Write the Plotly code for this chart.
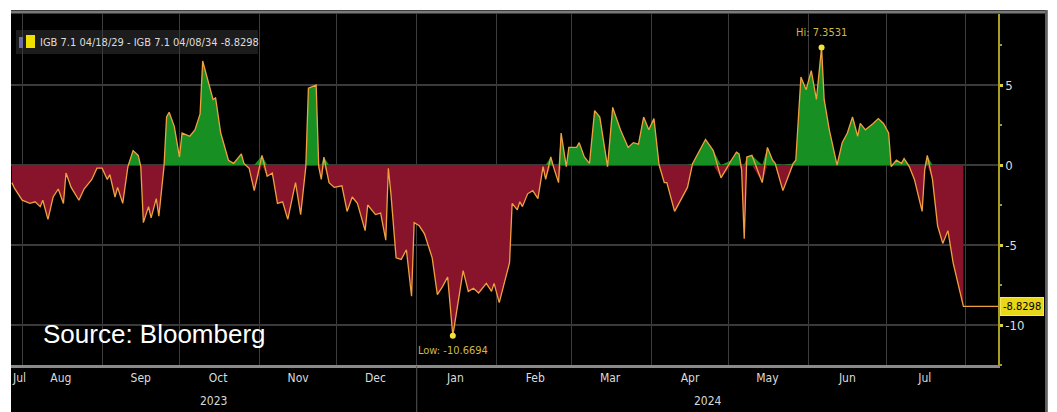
import plotly.graph_objects as go

series_name = "IGB 7.1 04/18/29 - IGB 7.1 04/08/34"

dates = [
    "2023-07-28", "2023-07-29", "2023-08-01", "2023-08-04", "2023-08-06", "2023-08-08", "2023-08-09",
    "2023-08-11", "2023-08-13", "2023-08-15", "2023-08-17", "2023-08-18", "2023-08-20", "2023-08-23",
    "2023-08-25", "2023-08-28", "2023-08-30", "2023-09-01", "2023-09-03", "2023-09-04", "2023-09-06",
    "2023-09-07", "2023-09-09", "2023-09-11", "2023-09-13", "2023-09-15", "2023-09-16", "2023-09-17",
    "2023-09-19", "2023-09-20", "2023-09-22", "2023-09-23", "2023-09-25", "2023-09-26", "2023-09-27",
    "2023-09-29", "2023-10-01", "2023-10-02", "2023-10-05", "2023-10-07", "2023-10-09", "2023-10-10",
    "2023-10-12", "2023-10-14", "2023-10-15", "2023-10-17", "2023-10-20", "2023-10-22", "2023-10-25",
    "2023-10-26", "2023-10-28", "2023-10-30", "2023-11-02", "2023-11-04", "2023-11-06", "2023-11-08",
    "2023-11-10", "2023-11-12", "2023-11-15", "2023-11-17", "2023-11-19", "2023-11-20", "2023-11-23",
    "2023-11-24", "2023-11-25", "2023-11-26", "2023-11-28", "2023-11-30", "2023-12-03", "2023-12-05",
    "2023-12-07", "2023-12-09", "2023-12-12", "2023-12-13", "2023-12-16", "2023-12-18", "2023-12-20",
    "2023-12-21", "2023-12-22", "2023-12-24", "2023-12-26", "2023-12-28", "2023-12-30", "2023-12-31",
    "2024-01-02", "2024-01-04", "2024-01-07", "2024-01-09", "2024-01-11", "2024-01-13", "2024-01-15",
    "2024-01-17", "2024-01-19", "2024-01-21", "2024-01-23", "2024-01-25", "2024-01-28", "2024-01-30",
    "2024-01-31", "2024-02-02", "2024-02-04", "2024-02-06", "2024-02-07", "2024-02-09", "2024-02-10",
    "2024-02-11", "2024-02-13", "2024-02-15", "2024-02-17", "2024-02-19", "2024-02-20", "2024-02-22",
    "2024-02-23", "2024-02-25", "2024-02-26", "2024-02-28", "2024-02-29", "2024-03-03", "2024-03-04",
    "2024-03-06", "2024-03-08", "2024-03-10", "2024-03-12", "2024-03-15", "2024-03-17", "2024-03-20",
    "2024-03-23", "2024-03-25", "2024-03-27", "2024-03-29", "2024-03-31", "2024-04-02", "2024-04-04",
    "2024-04-06", "2024-04-07", "2024-04-10", "2024-04-12", "2024-04-15", "2024-04-17", "2024-04-22",
    "2024-04-25", "2024-04-28", "2024-05-02", "2024-05-04", "2024-05-05", "2024-05-06", "2024-05-07",
    "2024-05-08", "2024-05-10", "2024-05-14", "2024-05-16", "2024-05-18", "2024-05-19", "2024-05-22",
    "2024-05-26", "2024-05-27", "2024-05-29", "2024-05-31", "2024-06-02", "2024-06-04", "2024-06-06",
    "2024-06-07", "2024-06-09", "2024-06-12", "2024-06-14", "2024-06-16", "2024-06-18", "2024-06-20",
    "2024-06-21", "2024-06-23", "2024-06-26", "2024-06-28", "2024-06-30", "2024-07-02", "2024-07-03",
    "2024-07-05", "2024-07-07", "2024-07-08", "2024-07-10", "2024-07-12", "2024-07-15", "2024-07-16",
    "2024-07-17", "2024-07-19", "2024-07-21", "2024-07-23", "2024-07-25", "2024-07-27", "2024-07-31",
]

values = [
    -1.1, -1.45, -2.2, -2.4, -2.3, -2.6, -2.2,
    -3.4, -2.0, -1.5, -2.4, -0.5, -1.4, -2.2,
    -1.5, -0.9, -0.2, -0.2, -0.9, -0.6, -2.0,
    -1.4, -2.4, -0.1, 0.9, 0.6, -0.1, -3.6,
    -2.6, -3.3, -2.1, -3.2, -0.1, 3.0, 3.3,
    2.4, 0.5, 2.0, 1.8, 2.2, 3.2, 6.5,
    5.3, 4.1, 4.2, 2.0, 0.3, 0.1, 0.7,
    0.1, -0.2, -1.6, 0.6, -0.7, -0.5, -2.4,
    -2.3, -3.4, -1.1, -3.1, -0.1, 4.8, 5.0,
    -0.1, -0.9, 0.5, -1.1, -1.4, -1.3, -2.9,
    -2.0, -2.4, -4.1, -2.5, -3.1, -3.0, -4.7,
    -0.2, -1.8, -5.8, -5.9, -5.3, -8.2, -3.6,
    -3.8, -4.3, -5.8, -8.1, -7.6, -7.0, -10.6694,
    -8.6, -6.6, -7.9, -7.7, -8.0, -7.4, -7.9,
    -7.4, -8.6, -7.3, -6.1, -2.4, -2.8, -2.3,
    -2.6, -1.8, -1.6, -2.1, -0.1, -0.9, 0.5,
    -0.1, -1.1, 2.0, -0.1, 1.1, 1.1, 1.4,
    0.5, 0.1, 3.4, 3.0, -0.1, 3.6, 2.2,
    1.1, 1.4, 1.3, 3.0, 2.2, 2.9, 0.0,
    -1.1, -1.1, -2.9, -2.3, -1.4, 0.1, 1.6,
    0.9, -0.8, 0.3, 0.8, 0.7, -0.3, -4.6,
    0.5, 0.6, -1.1, 1.1, 0.3, 0.1, -1.6,
    0.1, 0.3, 5.5, 4.7, 5.9, 4.1, 7.3531,
    4.1, 2.2, 0.0, 1.4, 2.0, 3.0, 1.8,
    2.6, 2.2, 2.6, 2.9, 2.6, 2.0, -0.1,
    0.3, 0.1, 0.4, -0.1, -0.9, -2.9, -0.3,
    0.6, -0.9, -3.8, -4.9, -4.1, -6.1, -8.8298,
]

month_tick_dates = ["2023-07-31", "2023-08-16", "2023-09-16", "2023-10-16", "2023-11-16",
                    "2023-12-16", "2024-01-16", "2024-02-16", "2024-03-16", "2024-04-16",
                    "2024-05-16", "2024-06-16", "2024-07-16"]
month_tick_labels = ["Jul", "Aug", "Sep", "Oct", "Nov", "Dec", "Jan", "Feb", "Mar", "Apr",
                     "May", "Jun", "Jul"]
year_label_dates = ["2023-10-14", "2024-04-23"]
year_labels = ["2023", "2024"]
y_tick_values = [5, 0, -5, -10]
x_range = ["2023-07-27 16:00", "2024-08-13 10:00"]
year_break_date = "2024-01-01"

# ---- figure geometry (pixels) ----
W, H = 1057, 412
ML, MR, MT, MB = 11, 59, 14, 47
PW, PH = W - ML - MR, H - MT - MB


def px_x(px):
    return (px - ML) / PW


def px_y(py):
    return (H - MB - py) / PH


NARROW = "Liberation Sans Narrow, DejaVu Sans Condensed, Roboto Condensed, Arial Narrow, sans-serif"
LINE_COLOR = "#f0a040"
GREEN = "#178f22"
RED = "#87142b"

pos_vals = [max(v, 0) for v in values]
neg_vals = [min(v, 0) for v in values]
last_value = values[-1]
hi_i = values.index(max(values))
lo_i = values.index(min(values))

fig = go.Figure()
fig.add_trace(go.Scatter(x=dates, y=pos_vals, mode="lines", line=dict(width=0),
                         fill="tozeroy", fillcolor=GREEN, hoverinfo="skip", showlegend=False))
fig.add_trace(go.Scatter(x=dates, y=neg_vals, mode="lines", line=dict(width=0),
                         fill="tozeroy", fillcolor=RED, hoverinfo="skip", showlegend=False))
fig.add_trace(go.Scatter(x=dates + [x_range[1]], y=values + [last_value], mode="lines",
                         line=dict(color=LINE_COLOR, width=1.3), name=series_name, showlegend=False))
fig.add_trace(go.Scatter(x=[dates[hi_i], dates[lo_i]], y=[values[hi_i], values[lo_i]], mode="markers",
                         marker=dict(color="#f2e23a", size=6), showlegend=False, hoverinfo="skip"))

annotations = [
    dict(x=px_x(38), y=px_y(42), xref="paper", yref="paper", xanchor="left", yanchor="middle",
         text=f"{series_name} {last_value:.4f}", showarrow=False,
         font=dict(family=NARROW, size=11, color="#dcdcdc")),
    dict(x=px_x(41), y=px_y(334), xref="paper", yref="paper", xanchor="left", yanchor="middle",
         text="Source: Bloomberg", showarrow=False,
         font=dict(family="Liberation Sans, Arial, sans-serif", size=26, color="#ffffff")),
    dict(x=dates[hi_i], y=values[hi_i], xref="x", yref="y", yshift=15, text=f"Hi: {values[hi_i]:.4f}",
         showarrow=False, font=dict(family=NARROW, size=11, color="#cdb84a")),
    dict(x=dates[lo_i], y=values[lo_i], xref="x", yref="y", yshift=-15, text=f"Low: {values[lo_i]:.4f}",
         showarrow=False, font=dict(family=NARROW, size=11, color="#cdb84a")),
    dict(x=1.002, y=last_value, xref="paper", yref="y", xanchor="left", yanchor="middle",
         text=f"{last_value:.4f}", showarrow=False, bgcolor="#e8d61a", bordercolor="#f5e85a",
         borderwidth=1, borderpad=2, font=dict(family=NARROW, size=11, color="#000000")),
]
for d, t in zip(year_label_dates, year_labels):
    annotations.append(dict(x=d, y=px_y(392), xref="x", yref="paper", xanchor="center", yanchor="top",
                            text=t, showarrow=False,
                            font=dict(family=NARROW, size=12, color="#d8d8d8")))

shapes = [
    # legend box
    dict(type="rect", xref="paper", yref="paper", x0=px_x(16), x1=px_x(258), y0=px_y(54), y1=px_y(30),
         fillcolor="#1c1c1c", line=dict(width=0), layer="below"),
    dict(type="rect", xref="paper", yref="paper", x0=px_x(19), x1=px_x(23), y0=px_y(48), y1=px_y(37),
         fillcolor="#6a6aa8", line=dict(width=0)),
    dict(type="rect", xref="paper", yref="paper", x0=px_x(26), x1=px_x(35), y0=px_y(48), y1=px_y(35),
         fillcolor="#f0e000", line=dict(width=0)),
    # year separator below axis
    dict(type="line", xref="x", yref="paper", x0=year_break_date, x1=year_break_date,
         y0=px_y(412), y1=px_y(366), line=dict(color="#555555", width=1)),
    # top border line
    dict(type="line", xref="paper", yref="paper", x0=px_x(11), x1=px_x(1046), y0=px_y(12), y1=px_y(12),
         line=dict(color="#7a7a7a", width=3)),
    # right border line
    dict(type="line", xref="paper", yref="paper", x0=px_x(1046), x1=px_x(1046), y0=px_y(412), y1=px_y(10),
         line=dict(color="#606060", width=2)),
    # white outer frame strips
    dict(type="rect", xref="paper", yref="paper", x0=px_x(0), x1=px_x(1057), y0=px_y(10), y1=px_y(0),
         fillcolor="#ffffff", line=dict(width=0)),
    dict(type="rect", xref="paper", yref="paper", x0=px_x(0), x1=px_x(11), y0=px_y(412), y1=px_y(0),
         fillcolor="#ffffff", line=dict(width=0)),
    dict(type="rect", xref="paper", yref="paper", x0=px_x(1047.5), x1=px_x(1057), y0=px_y(412), y1=px_y(0),
         fillcolor="#ffffff", line=dict(width=0)),
]

fig.update_layout(
    width=W, height=H,
    margin=dict(l=ML, r=MR, t=MT, b=MB, pad=0),
    paper_bgcolor="#000000", plot_bgcolor="#000000",
    showlegend=False,
    annotations=annotations,
    shapes=shapes,
    xaxis=dict(
        type="date", range=x_range,
        tickmode="array", tickvals=month_tick_dates, ticktext=month_tick_labels,
        ticks="", showgrid=False, zeroline=False,
        minor=dict(dtick="M1", tick0="2023-08-01", showgrid=True, gridcolor="#3c3c3c", gridwidth=1, ticks=""),
        showline=True, linecolor="#8a8a8a", linewidth=3,
        tickfont=dict(family=NARROW, size=12, color="#dcdcdc"),
    ),
    yaxis=dict(
        side="right", range=[-12.5, 9.44],
        tickmode="array", tickvals=y_tick_values, ticktext=[str(v) for v in y_tick_values],
        showgrid=True, gridcolor="#3a3a3a", gridwidth=2, zeroline=False,
        showline=True, linecolor="#a8a020", linewidth=1.5,
        ticks="outside", ticklen=3, tickwidth=3, tickcolor="#d8d040",
        minor=dict(dtick=2.5, tick0=0, ticks="outside", ticklen=2, tickwidth=2, tickcolor="#a8a030", showgrid=False),
        tickfont=dict(family=NARROW, size=13, color="#dcdcdc"),
    ),
)

fig.write_html("out.html", config={"displayModeBar": False},
               post_script="document.body.style.margin='0';document.body.style.padding='0';")
